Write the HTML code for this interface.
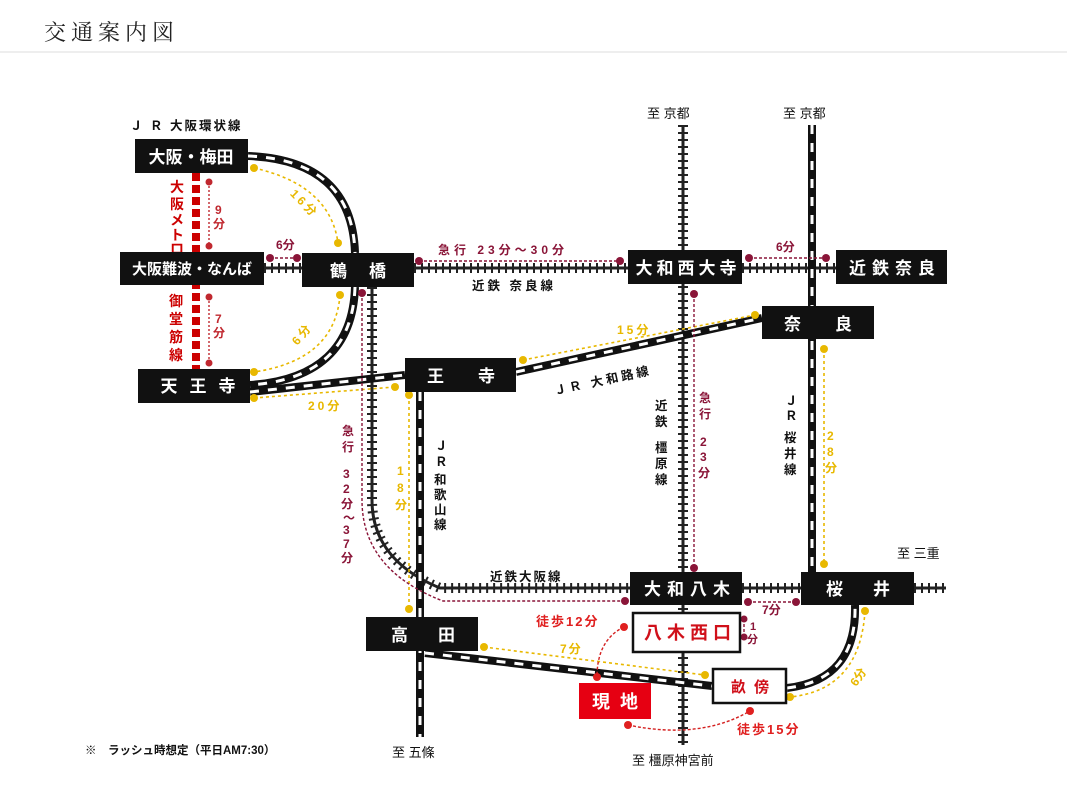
<!DOCTYPE html>
<html><head><meta charset="utf-8">
<style>
html,body{margin:0;padding:0;background:#fff;}
svg{display:block;font-family:"Liberation Sans","Noto Sans CJK JP",sans-serif;}
.t{font-family:"Noto Serif CJK SC","Liberation Serif",serif;}
</style></head><body>
<svg width="1067" height="800" viewBox="0 0 1067 800" xmlns="http://www.w3.org/2000/svg">
<text x="44" y="40" font-size="22" letter-spacing="5" fill="#222" class="t">交通案内図</text>
<line x1="0" y1="52" x2="1067" y2="52" stroke="#ddd" stroke-width="1"/>

<!-- Kintetsu ladder lines -->
<g fill="none" stroke="#222">
 <g stroke-width="3">
  <path d="M264 268H302 M414 268H628 M742 268H836"/>
  <path d="M683 125V745"/>
  <path d="M372 287V500 Q372 560 440 588 H630 M742 588H801 M914 588H946"/>
 </g>
 <g stroke-width="10" stroke-dasharray="2 5">
  <path d="M264 268H302 M414 268H628 M742 268H836"/>
  <path d="M683 125V745"/>
  <path d="M372 287V500 Q372 560 440 588 H630 M742 588H801 M914 588H946"/>
 </g>
</g>

<!-- JR lines -->
<g fill="none">
 <g stroke="#111" stroke-width="8">
  <path d="M248 156 Q352 160 355 253"/>
  <path d="M355 287 Q352 378 250 385"/>
  <path d="M250 392 L405 375 M516 372 L762 318"/>
  <path d="M420 392 V737"/>
  <path d="M812 125 V572"/>
  <path d="M425 653 L712 686"/>
  <path d="M787 688 Q857 680 855 605"/>
 </g>
 <g stroke="#fff" stroke-width="3" stroke-dasharray="9 9">
  <path d="M248 156 Q352 160 355 253"/>
  <path d="M355 287 Q352 378 250 385"/>
  <path d="M250 392 L405 375 M516 372 L762 318"/>
  <path d="M420 392 V737"/>
  <path d="M812 125 V572"/>
  <path d="M425 653 L712 686"/>
  <path d="M787 688 Q857 680 855 605"/>
 </g>
</g>

<!-- Metro -->
<path d="M196 173V369" stroke="#c00" stroke-width="8" stroke-dasharray="8 4" fill="none"/>

<!-- Yellow time lines -->
<g stroke="#e8b800" stroke-width="1.6" stroke-dasharray="3 3" fill="none">
 <path d="M254 168 Q330 185 338 243"/>
 <path d="M340 295 Q335 360 254 372"/>
 <path d="M254 398 L395 387"/>
 <path d="M523 360 L755 315"/>
 <path d="M409 395 V609"/>
 <path d="M824 349 V564"/>
 <path d="M484 647 L705 675"/>
 <path d="M865 611 Q860 690 790 697"/>
</g>
<g fill="#e8b800">
 <circle cx="254" cy="168" r="4"/><circle cx="338" cy="243" r="4"/>
 <circle cx="340" cy="295" r="4"/><circle cx="254" cy="372" r="4"/>
 <circle cx="254" cy="398" r="4"/><circle cx="395" cy="387" r="4"/>
 <circle cx="523" cy="360" r="4"/><circle cx="755" cy="315" r="4"/>
 <circle cx="409" cy="395" r="4"/><circle cx="409" cy="609" r="4"/>
 <circle cx="824" cy="349" r="4"/><circle cx="824" cy="564" r="4"/>
 <circle cx="484" cy="647" r="4"/><circle cx="705" cy="675" r="4"/>
 <circle cx="865" cy="611" r="4"/><circle cx="790" cy="697" r="4"/>
</g>
<g fill="#e8b800" font-size="12" font-weight="bold">
 <text x="283" y="200" transform="rotate(45 293 205)" letter-spacing="3">16分</text>
 <text x="290" y="340" transform="rotate(-50 300 335)" letter-spacing="3">6分</text>
 <text x="308" y="410" letter-spacing="3">20分</text>
 <text x="617" y="334" letter-spacing="3">15分</text>
 <text x="560" y="653" letter-spacing="2">7分</text>
 <text x="850" y="685" transform="rotate(-55 855 680)">6分</text>
 <text x="397" y="475">1</text><text x="397" y="492">8</text><text x="395" y="509">分</text>
 <text x="827" y="440">2</text><text x="827" y="456">8</text><text x="825" y="472">分</text>
</g>

<!-- Purple express lines -->
<g stroke="#8a1538" stroke-width="1.4" stroke-dasharray="3 2" fill="none">
 <path d="M270 258H297"/>
 <path d="M419 261H620"/>
 <path d="M749 258H826"/>
 <path d="M694 294V568"/>
 <path d="M362 293V500 Q362 570 443 601 H625"/>
 <path d="M748 602H796"/>
 <path d="M744 619V637"/>
</g>
<g fill="#8a1538">
 <circle cx="270" cy="258" r="4"/><circle cx="297" cy="258" r="4"/>
 <circle cx="419" cy="261" r="4"/><circle cx="620" cy="261" r="4"/>
 <circle cx="749" cy="258" r="4"/><circle cx="826" cy="258" r="4"/>
 <circle cx="694" cy="294" r="4"/><circle cx="694" cy="568" r="4"/>
 <circle cx="362" cy="293" r="4"/><circle cx="625" cy="601" r="4"/>
 <circle cx="748" cy="602" r="4"/><circle cx="796" cy="602" r="4"/>
 <circle cx="744" cy="619" r="3.5"/><circle cx="744" cy="637" r="3.5"/>
</g>
<g fill="#8a1538" font-size="12" font-weight="bold">
 <text x="276" y="249">6分</text>
 <text x="438" y="254" letter-spacing="4">急行 23分～30分</text>
 <text x="776" y="251">6分</text>
 <text x="762" y="614">7分</text>
 <text x="750" y="630" font-size="11">1</text><text x="747" y="643" font-size="11">分</text>
 <text x="699" y="402">急</text><text x="699" y="418">行</text>
 <text x="700" y="446">2</text><text x="700" y="461">3</text><text x="698" y="477">分</text>
 <text x="342" y="435">急</text><text x="342" y="451">行</text>
 <text x="343" y="478">3</text><text x="343" y="493">2</text><text x="341" y="508">分</text>
 <text x="343" y="522">～</text><text x="343" y="534">3</text><text x="343" y="548">7</text><text x="341" y="562">分</text>
</g>

<!-- Red metro dotted & labels -->
<g stroke="#c0282f" stroke-width="1.4" stroke-dasharray="2 2" fill="none">
 <path d="M209 182V246 M209 297V363"/>
</g>
<g fill="#c0282f">
 <circle cx="209" cy="182" r="3.5"/><circle cx="209" cy="246" r="3.5"/>
 <circle cx="209" cy="297" r="3.5"/><circle cx="209" cy="363" r="3.5"/>
</g>
<g fill="#c0282f" font-size="12" font-weight="bold">
 <text x="215" y="214">9</text><text x="213" y="228">分</text>
 <text x="215" y="323">7</text><text x="213" y="337">分</text>
</g>
<g fill="#c00" font-size="14" font-weight="bold">
 <text x="170" y="192">大</text><text x="170" y="209">阪</text><text x="170" y="225">メ</text><text x="170" y="240">ト</text><text x="170" y="254">ロ</text>
 <text x="169" y="306">御</text><text x="169" y="324">堂</text><text x="169" y="342">筋</text><text x="169" y="360">線</text>
</g>

<!-- Walking red -->
<g stroke="#d42020" stroke-width="1.4" stroke-dasharray="3 2" fill="none">
 <path d="M624 627 Q597 640 597 677"/>
 <path d="M628 725 Q700 740 750 711"/>
</g>
<g fill="#e02020">
 <circle cx="624" cy="627" r="4"/><circle cx="597" cy="677" r="4"/>
 <circle cx="628" cy="725" r="4"/><circle cx="750" cy="711" r="4"/>
</g>
<g fill="#e02020" font-size="13" font-weight="bold">
 <text x="536" y="626" letter-spacing="2">徒歩12分</text>
 <text x="737" y="734" letter-spacing="2">徒歩15分</text>
</g>

<!-- Stations -->
<g fill="#111">
 <rect x="135" y="139" width="113" height="34"/>
 <rect x="120" y="252" width="144" height="33"/>
 <rect x="302" y="253" width="112" height="34"/>
 <rect x="138" y="369" width="112" height="34"/>
 <rect x="405" y="358" width="111" height="34"/>
 <rect x="628" y="250" width="114" height="34"/>
 <rect x="836" y="250" width="111" height="34"/>
 <rect x="762" y="306" width="112" height="33"/>
 <rect x="630" y="572" width="112" height="33"/>
 <rect x="801" y="572" width="113" height="33"/>
 <rect x="366" y="617" width="112" height="34"/>
</g>
<rect x="633" y="613" width="107" height="39" fill="#fff" stroke="#111" stroke-width="2.5"/>
<rect x="713" y="669" width="73" height="34" fill="#fff" stroke="#111" stroke-width="2.5"/>
<rect x="579" y="683" width="72" height="36" fill="#e60012"/>

<g fill="#fff" font-size="17" font-weight="bold" text-anchor="middle">
 <text x="191" y="163">大阪・梅田</text>
 <text x="192" y="274" font-size="15">大阪難波・なんば</text>
 <text x="369" y="277" letter-spacing="22">鶴橋</text>
 <text x="204" y="392" letter-spacing="12">天王寺</text>
 <text x="478" y="382" letter-spacing="34">王寺</text>
 <text x="688" y="274" letter-spacing="4">大和西大寺</text>
 <text x="895" y="274" letter-spacing="6">近鉄奈良</text>
 <text x="835" y="330" letter-spacing="34">奈良</text>
 <text x="690" y="595" letter-spacing="6">大和八木</text>
 <text x="873" y="595" letter-spacing="30">桜井</text>
 <text x="438" y="641" letter-spacing="30">高田</text>
 <text x="620" y="708" font-size="18" letter-spacing="10">現地</text>
</g>
<g fill="#d0101a" font-weight="bold" text-anchor="middle">
 <text x="690" y="639" font-size="18" letter-spacing="5">八木西口</text>
 <text x="754" y="692" font-size="15" letter-spacing="8">畝傍</text>
</g>

<!-- Line labels -->
<g fill="#111" font-size="12.5" font-weight="bold">
 <text x="130" y="130" letter-spacing="2">Ｊ Ｒ 大阪環状線</text>
 <text x="472" y="290" letter-spacing="3">近鉄 奈良線</text>
 <text x="490" y="581" letter-spacing="2">近鉄大阪線</text>
 <text x="555" y="395" transform="rotate(-12 555 395)" letter-spacing="3">ＪＲ 大和路線</text>
 <text x="435" y="450">Ｊ</text><text x="435" y="466">Ｒ</text>
 <text x="434" y="484">和</text><text x="434" y="499">歌</text><text x="434" y="514">山</text><text x="434" y="529">線</text>
 <text x="655" y="410">近</text><text x="655" y="426">鉄</text>
 <text x="655" y="452">橿</text><text x="655" y="468">原</text><text x="655" y="484">線</text>
 <text x="785" y="405">Ｊ</text><text x="785" y="420">Ｒ</text>
 <text x="784" y="442">桜</text><text x="784" y="458">井</text><text x="784" y="474">線</text>
 <text x="647" y="118" font-weight="normal" font-size="13">至 京都</text>
 <text x="783" y="118" font-weight="normal" font-size="13">至 京都</text>
 <text x="897" y="558" font-weight="normal" font-size="13">至 三重</text>
 <text x="392" y="757" font-weight="normal" font-size="13">至 五條</text>
 <text x="632" y="765" font-weight="normal" font-size="13">至 橿原神宮前</text>
 <text x="85" y="754" font-size="11.5">※　ラッシュ時想定（平日AM7:30）</text>
</g>
</svg>
</body></html>
